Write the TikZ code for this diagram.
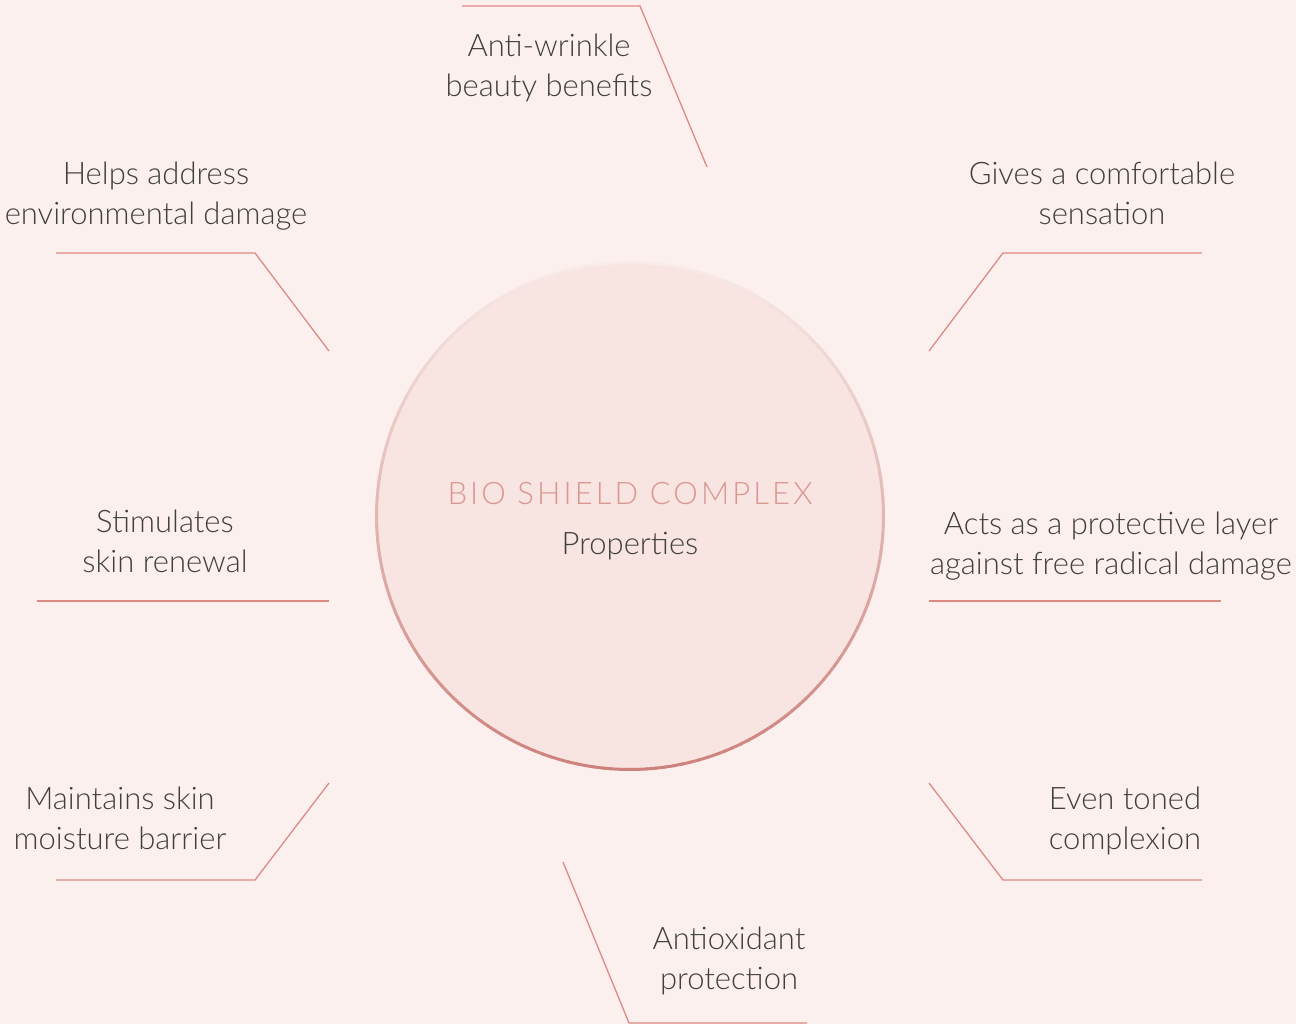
\documentclass[tikz,border=0pt]{standalone}
\usepackage{fontspec}
\setmainfont{Lato}[UprightFont=* Light]
\definecolor{bg}{HTML}{FCF0EE}
\definecolor{disc}{HTML}{F8E4E0}
\definecolor{ln}{HTML}{DD8A84}
\definecolor{txt}{HTML}{3F3F3F}
\definecolor{title}{HTML}{DA9791}
\definecolor{ringtop}{HTML}{F8EBE8}
\definecolor{ringbot}{HTML}{CD827C}
\begin{document}
\begin{tikzpicture}[x=1pt,y=-1pt,
  lbl/.style={align=center,text=txt,font=\fontsize{31}{40}\selectfont,inner sep=0pt},
  conn/.style={draw=ln,line width=1.3pt}]
\fill[bg] (0,0) rectangle (1296,1024);
\useasboundingbox (0,0) rectangle (1296,1024);
% central disc
\coordinate (c) at (630,516);
\fill[disc] (c) circle (254);
\foreach \a [evaluate=\a as \p using {(1+sin(\a+1))*50}] in {0,2,...,358}
  \draw[line width=3pt,ringbot!\p!ringtop] ([shift={(\a:253.5)}]c) arc (\a:\a+2.3:253.5);
\node[inner sep=0pt,text=title,font=\fontsize{31}{36}\selectfont\addfontfeatures{LetterSpace=10}] (t1) at (630,494) {BIO SHIELD COMPLEX};
\node[inner sep=0pt,text=txt,font=\fontsize{31}{36}\selectfont] (t2) at (630,546) {Properties};
% labels
\node[lbl] (l1) at (549,69) {\strut Anti-wrinkle\\beauty benefits\strut};
\node[lbl] (l2) at (156,197) {\strut Helps address\\environmental damage\strut};
\node[lbl] (l3) at (1102,197) {\strut Gives a comfortable\\sensation\strut};
\node[lbl] (l4) at (165,544) {\strut Stimulates\\skin renewal\strut};
\node[lbl] (l5) at (1111,546) {\strut Acts as a protective layer\\against free radical damage\strut};
\node[lbl] (l6) at (120,821) {\strut Maintains skin\\moisture barrier\strut};
\node[lbl] (l7) at (1125,821) {\strut Even toned\\complexion\strut};
\node[lbl] (l8) at (729,961) {\strut Antioxidant\\protection\strut};
% connector coordinates
\coordinate (a1) at (462,6); \coordinate (a2) at (640,6); \coordinate (a3) at (707,167);
\coordinate (b1) at (56,253); \coordinate (b2) at (255,253); \coordinate (b3) at (329,351);
\coordinate (c1) at (1202,253); \coordinate (c2) at (1003,253); \coordinate (c3) at (929,351);
\coordinate (d1) at (37,601); \coordinate (d2) at (329,601);
\coordinate (e1) at (929,601); \coordinate (e2) at (1221,601);
\coordinate (f1) at (56,880); \coordinate (f2) at (255,880); \coordinate (f3) at (329,783);
\coordinate (g1) at (1202,880); \coordinate (g2) at (1003,880); \coordinate (g3) at (929,783);
\coordinate (h1) at (563,862); \coordinate (h2) at (629,1023); \coordinate (h3) at (807,1023);
\draw[conn] (a1) -- (a2) -- (a3);
\draw[conn] (b1) -- (b2) -- (b3);
\draw[conn] (c1) -- (c2) -- (c3);
\draw[conn] (d1) -- (d2);
\draw[conn] (e1) -- (e2);
\draw[conn] (f1) -- (f2) -- (f3);
\draw[conn] (g1) -- (g2) -- (g3);
\draw[conn] (h1) -- (h2) -- (h3);
\end{tikzpicture}
\end{document}
